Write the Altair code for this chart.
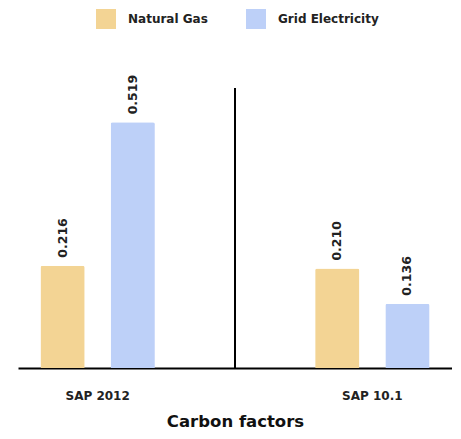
import altair as alt
import pandas as pd

groups = ["SAP 2012", "SAP 2012", "SAP 10.1", "SAP 10.1"]
fuels = ["Natural Gas", "Grid Electricity", "Natural Gas", "Grid Electricity"]
values = [0.216, 0.519, 0.210, 0.136]
labels = ["0.216", "0.519", "0.210", "0.136"]

group_order = ["SAP 2012", "SAP 10.1"]
fuel_order = ["Natural Gas", "Grid Electricity"]
colors = ["#F3D494", "#BDD0F8"]

df = pd.DataFrame({"group": groups, "fuel": fuels, "value": values, "label": labels})

FONT = "DejaVu Sans"

x = alt.X(
    "group:N",
    sort=group_order,
    scale=alt.Scale(paddingInner=0.42, paddingOuter=0),
    axis=alt.Axis(
        title="Carbon factors",
        labelAngle=0,
        labelFont=FONT,
        labelFontSize=12,
        labelFontWeight="bold",
        labelColor="#222222",
        labelPadding=22,
        ticks=False,
        domainColor="#000000",
        domainWidth=2,
        titleFont=FONT,
        titleFontSize=16.5,
        titleFontWeight="bold",
        titleColor="#111111",
        titleY=58,
        titleBaseline="alphabetic",
        grid=False,
    ),
)
xoff = alt.XOffset("fuel:N", sort=fuel_order,
                   scale=alt.Scale(paddingInner=0.37, paddingOuter=0.32))
y = alt.Y("value:Q", scale=alt.Scale(domain=[0, 0.6]), axis=None)

bars = alt.Chart(df).mark_bar(cornerRadiusTopLeft=2, cornerRadiusTopRight=2).encode(
    x=x,
    xOffset=xoff,
    y=y,
    color=alt.Color(
        "fuel:N",
        sort=fuel_order,
        scale=alt.Scale(domain=fuel_order, range=colors),
        legend=alt.Legend(
            title=None,
            orient="none",
            legendX=78,
            legendY=-75,
            direction="horizontal",
            symbolType="square",
            symbolSize=400,
            symbolStrokeWidth=0,
            labelFont=FONT,
            labelFontSize=12,
            labelFontWeight="bold",
            labelColor="#222222",
            labelOffset=12,
            columnPadding=38,
        ),
    ),
)

text = alt.Chart(df).mark_text(
    angle=270, align="left", baseline="middle", dx=8,
    font=FONT, fontSize=12.5, fontWeight="bold", color="#222222",
).encode(x=x, xOffset=xoff, y=y, text="label:N")

divider = alt.Chart(df).mark_rule(color="#000000", strokeWidth=2).encode(
    x=alt.value(217), y=alt.value(4), y2=alt.value(284)
)

chart = alt.layer(bars, text, divider).properties(
    width=434,
    height=284,
    autosize=alt.AutoSizeParams(type="none"),
    padding={"left": 10, "top": 76, "right": 0, "bottom": 63},
    background="white",
).configure_view(strokeWidth=0)

chart.save("out.html", embed_options={"renderer": "svg", "actions": False})
